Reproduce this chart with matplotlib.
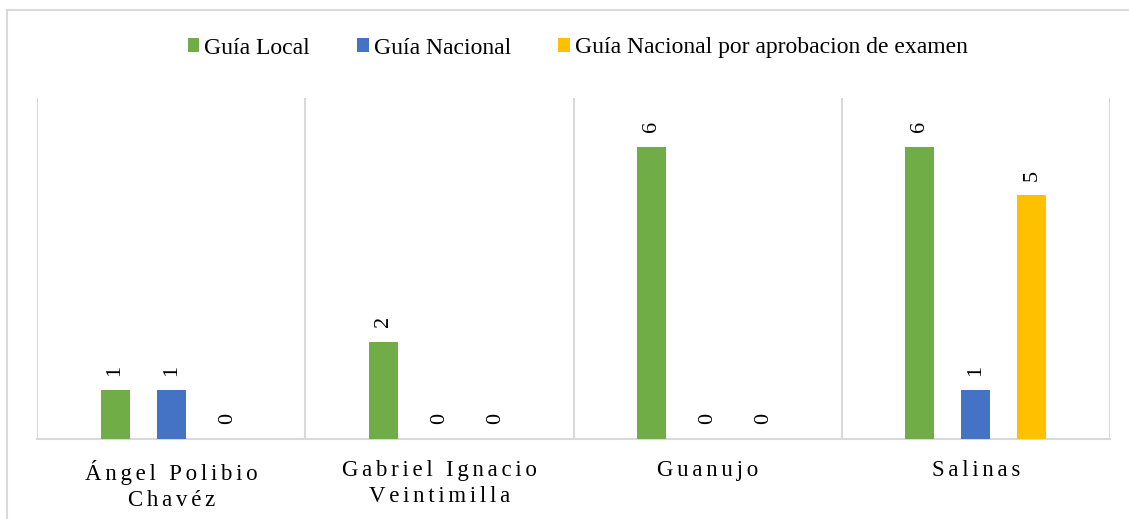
"""Guias por parroquia - bar chart."""
import numpy as np
import matplotlib
matplotlib.use("Agg")
from matplotlib import pyplot as plt
from matplotlib.lines import Line2D

categories = ["Ángel Polibio\nChavéz", "Gabriel Ignacio\nVeintimilla", "Guanujo", "Salinas"]
series_names = ["Guía Local", "Guía Nacional", "Guía Nacional por aprobacion de examen"]
guia_local = [1, 2, 6, 6]
guia_nacional = [1, 0, 0, 1]
guia_examen = [0, 0, 0, 5]
colors = ["#70ad47", "#4472c4", "#ffc000"]

plt.rcParams['font.family'] = ['Liberation Serif', 'DejaVu Serif']


def spaced(s):
    # widen letter spacing like the original axis labels
    return "\n".join("\u2006".join(line) for line in s.split("\n"))


fig = plt.figure(figsize=(11.29, 5.19), dpi=100)
ax = fig.add_axes([37 / 1129, 80 / 519, 1073 / 1129, 341 / 519])

# outer chart border (top + left visible)
fig.add_artist(Line2D([7 / 1129, 1.0], [1 - 10 / 519, 1 - 10 / 519],
                      color="#d9d9d9", lw=1.5, transform=fig.transFigure))
fig.add_artist(Line2D([7 / 1129, 7 / 1129], [0, 1 - 10 / 519],
                      color="#d9d9d9", lw=1.5, transform=fig.transFigure))

x = np.arange(len(categories))
width = 0.108
step = 0.209
for i, (vals, name) in enumerate(zip([guia_local, guia_nacional, guia_examen], series_names)):
    pos = x + (i - 1) * step
    ax.bar(pos, vals, width, color=colors[i], label=name, zorder=3)
    for p, v in zip(pos, vals):
        ax.text(p, v + 0.3, str(v), rotation=90, ha="center", va="bottom",
                fontsize=16, color="#000000")

ax.set_xlim(-0.5, len(categories) - 0.5)
ax.set_ylim(0, 7)
ax.set_yticks([])
ax.set_xticks(x)
ax.set_xticklabels([spaced(c) for c in categories], fontsize=16.5, linespacing=1.35)
ax.tick_params(axis="x", length=0, pad=15)
for b in np.arange(-0.5, len(categories), 1.0):
    ax.axvline(b, color="#d9d9d9", lw=1.5, zorder=1)
for s in ["top", "left", "right"]:
    ax.spines[s].set_visible(False)
ax.spines["bottom"].set_color("#d9d9d9")
ax.spines["bottom"].set_linewidth(1.5)

fig.legend(loc="center", bbox_to_anchor=(0.5 + 13 / 1129, 1 - 48 / 519), ncol=3,
           frameon=False, fontsize=17, handlelength=0.5, handleheight=0.5,
           handletextpad=0.2, columnspacing=2.0)

plt.savefig("out.png", dpi=100)
plt.close()
